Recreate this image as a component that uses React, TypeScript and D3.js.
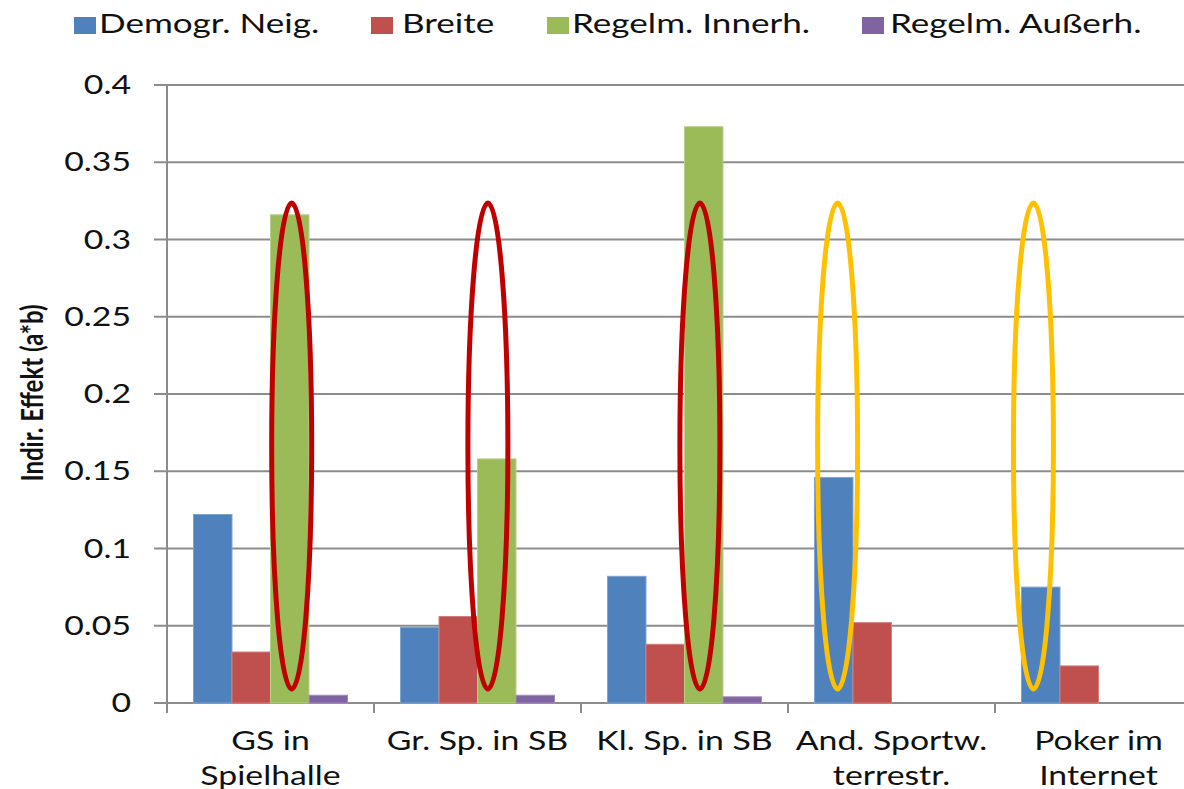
import React from 'react';
import * as d3 from 'd3';

// ---- data ----
const categories = ['GS in Spielhalle', 'Gr. Sp. in SB', 'Kl. Sp. in SB', 'And. Sportw. terrestr.', 'Poker im Internet'];
const categoryLines = [['GS in', 'Spielhalle'], ['Gr. Sp. in SB'], ['Kl. Sp. in SB'], ['And. Sportw.', 'terrestr.'], ['Poker im', 'Internet']];
const seriesNames = ['Demogr. Neig.', 'Breite', 'Regelm. Innerh.', 'Regelm. Außerh.'];
const demogrNeig = [0.122, 0.049, 0.082, 0.146, 0.075];
const breite = [0.033, 0.056, 0.038, 0.052, 0.024];
const regelmInnerh = [0.316, 0.158, 0.373, null, null];
const regelmAusserh = [0.005, 0.005, 0.004, null, null];
const yTicks = [0, 0.05, 0.1, 0.15, 0.2, 0.25, 0.3, 0.35, 0.4];
const yTickLabels = ['0', '0.05', '0.1', '0.15', '0.2', '0.25', '0.3', '0.35', '0.4'];
const yTitle = 'Indir. Effekt (a*b)';
// highlight ellipses (annotation): category, position in bar units inside the group, colour
const highlightCategory = [0, 1, 2, 3, 4];
const highlightPos = [2.55, 2.27, 2.4, 0.6, 0.31];
const highlightKind = ['red', 'red', 'red', 'yellow', 'yellow'];
const highlightRange = [0.009, 0.3236];

// ---- styles ----
const seriesColors = ['#4F81BD', '#C0504D', '#9BBB59', '#8064A2'];
const seriesStroke = ['#7fa3d0', '#d17f7c', '#b8d08a', '#a08cbc'];
const ellipseColors: Record<string, string> = { red: '#C00000', yellow: '#FFC000' };
const FONT = 'Lato, Calibri, "Open Sans", sans-serif';
const SX = 1.3;
const legendSquareX = [74, 371, 547, 862];
const legendTextX = [99, 402, 572, 890];

export default function App() {
  const W = 1184, H = 789;
  const left = 167;
  const step = 207;
  const values = [demogrNeig, breite, regelmInnerh, regelmAusserh];

  const x0 = d3.scaleBand<string>().domain(categories).range([left, left + step * categories.length]).padding(0);
  const x1 = d3.scaleBand<string>().domain(seriesNames).range([26.5, step - 26.5]).padding(0);
  const y = d3.scaleLinear().domain([0, 0.4]).range([703, 85]);
  const bw = x1.bandwidth();
  const plotRight = left + step * categories.length;
  const grid = '#8c8c8c';

  return (
    <svg width={W} height={H} style={{ position: 'absolute', left: 0, top: 0, background: '#fff' }}>
      {/* legend */}
      {seriesNames.map((s, i) => (
        <g key={s}>
          <rect x={legendSquareX[i]} y={17} width={22} height={17} fill={seriesColors[i]} />
          <text transform={`translate(${legendTextX[i]},33) scale(${SX},1)`} fontFamily={FONT} fontSize={27} fill="#111">{s}</text>
        </g>
      ))}

      {/* gridlines */}
      {yTicks.map((t, i) => (
        <line key={i} x1={154} x2={plotRight} y1={y(t)} y2={y(t)} stroke={grid} strokeWidth={2} />
      ))}
      {/* y axis */}
      <line x1={left} x2={left} y1={y(0.4)} y2={y(0) + 10} stroke={grid} strokeWidth={2} />
      {categories.map((c, i) => (
        <line key={c} x1={(x0(c) as number) + step} x2={(x0(c) as number) + step} y1={y(0)} y2={y(0) + 10} stroke={grid} strokeWidth={2} />
      ))}

      {/* y tick labels */}
      {yTicks.map((t, i) => (
        <text key={i} transform={`translate(131,${y(t) + 9}) scale(${SX},1)`} textAnchor="end" fontFamily={FONT} fontSize={26} fill="#111">{yTickLabels[i]}</text>
      ))}

      {/* y title */}
      <text transform={`translate(43,393) scale(${SX},1) rotate(-90)`} textAnchor="middle" fontFamily={FONT} fontWeight="bold" fontSize={24} fill="#111">{yTitle}</text>

      {/* bars */}
      {categories.map((c, ci) => (
        <g key={c} transform={`translate(${x0(c)},0)`}>
          {seriesNames.map((s, si) => {
            const v = values[si][ci];
            if (v == null) return null;
            return (
              <rect key={s} x={x1(s)} y={y(v)} width={bw} height={y(0) - y(v)} fill={seriesColors[si]} stroke={seriesStroke[si]} strokeWidth={1} />
            );
          })}
        </g>
      ))}

      {/* category labels */}
      {categories.map((c, ci) => (
        <g key={c}>
          {categoryLines[ci].map((line, li) => (
            <text key={li} transform={`translate(${(x0(c) as number) + step / 2},${750 + li * 35}) scale(${SX},1)`} textAnchor="middle" fontFamily={FONT} fontSize={26} fill="#111">{line}</text>
          ))}
        </g>
      ))}

      {/* highlight ellipses */}
      {highlightCategory.map((ci, i) => {
        const cx = (x0(categories[ci]) as number) + 26.5 + highlightPos[i] * bw;
        const cy = (y(highlightRange[0]) + y(highlightRange[1])) / 2;
        const ry = (y(highlightRange[0]) - y(highlightRange[1])) / 2;
        return <ellipse key={i} cx={cx} cy={cy} rx={20} ry={ry} fill="none" stroke={ellipseColors[highlightKind[i]]} strokeWidth={5} />;
      })}
    </svg>
  );
}
